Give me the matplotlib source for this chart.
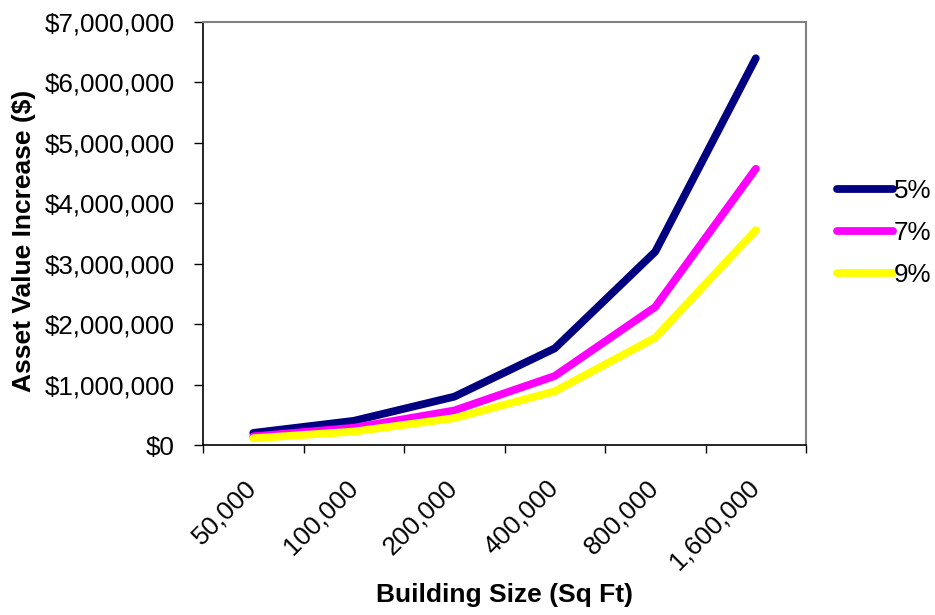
import matplotlib.pyplot as plt
from matplotlib.ticker import FuncFormatter, MultipleLocator

plt.rcParams['font.family'] = ['Liberation Sans', 'DejaVu Sans']

sizes = ["50,000", "100,000", "200,000", "400,000", "800,000", "1,600,000"]
rate_labels = ["5%", "7%", "9%"]
value_5 = [200000, 400000, 800000, 1600000, 3200000, 6400000]
value_7 = [142857, 285714, 571429, 1142857, 2285714, 4571429]
value_9 = [111111, 222222, 444444, 888889, 1777778, 3555556]
colors = ["#000080", "#FF00FF", "#FFFF00"]

fs = 18.7

fig = plt.figure(figsize=(9.35, 6.15), dpi=100)
ax = fig.add_axes([0.2171, 0.2764, 0.6450, 0.6878])

x = range(len(sizes))
for vals, lab, col in zip([value_5, value_7, value_9], rate_labels, colors):
    ax.plot(x, vals, color=col, lw=5.6, label=lab,
            solid_capstyle='round', solid_joinstyle='round')

ax.set_xlim(-0.5, len(sizes) - 0.5)
ax.set_ylim(0, 7000000)
ax.yaxis.set_major_locator(MultipleLocator(1000000))
ax.yaxis.set_major_formatter(FuncFormatter(lambda v, p: "${:,.0f}".format(v)))

# category ticks sit between the points, labels under each point
ax.set_xticks([i - 0.5 for i in range(len(sizes) + 1)])
ax.set_xticklabels([])
ax.set_xticks(list(x), minor=True)
ax.set_xticklabels(sizes, minor=True, rotation=45, ha='right', va='center',
                   rotation_mode='anchor', fontsize=fs)
ax.tick_params(axis='x', which='minor', length=0, pad=28)
ax.tick_params(axis='x', which='major', length=6, direction='out', width=1)
ax.tick_params(axis='y', length=6.5, direction='out', width=1,
               labelsize=fs, pad=14)

for side in ['top', 'right']:
    ax.spines[side].set_color('#808080')
    ax.spines[side].set_linewidth(1.5)
for side in ['left', 'bottom']:
    ax.spines[side].set_color('black')
    ax.spines[side].set_linewidth(1.2)

fig.text(0.026, 0.608, "Asset Value Increase ($)", rotation=90, ha='center',
         va='center', fontsize=19, fontweight='bold')
fig.text(0.54, 0.032, "Building Size (Sq Ft)", ha='center', va='center',
         fontsize=19, fontweight='bold')

ax.legend(loc='center left', bbox_to_anchor=(0.895, 0.621),
          bbox_transform=fig.transFigure, frameon=False, fontsize=fs,
          handlelength=2.15, handletextpad=0.05, labelspacing=0.68,
          borderpad=0, borderaxespad=0)

fig.savefig("out.png", dpi=100)
